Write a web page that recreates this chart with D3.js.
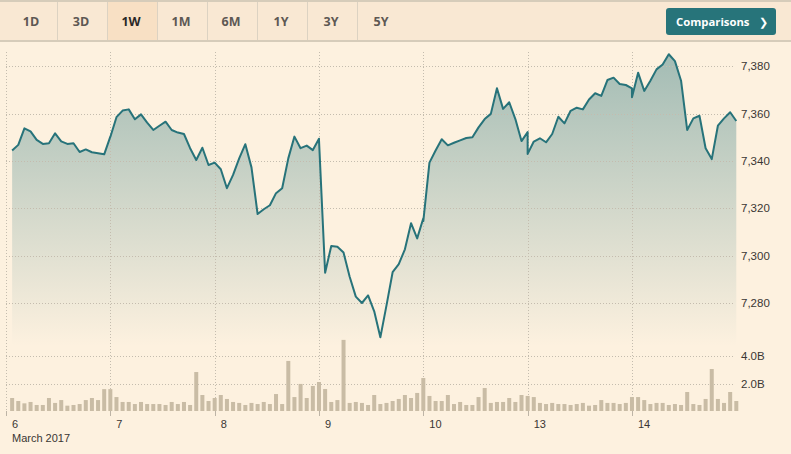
<!DOCTYPE html>
<html>
<head>
<meta charset="utf-8">
<script src="https://cdn.jsdelivr.net/npm/d3@7"></script>
<style>
  html, body { margin: 0; padding: 0; background: #fdf1df; }
  svg { display: block; }
</style>
</head>
<body>
<svg id="chart" width="791" height="454"></svg>
<script>
// ---------- DATA ----------
const dayLabels = ["6", "7", "8", "9", "10", "13", "14"];
const monthLabel = "March 2017";
const rangeButtons = ["1D", "3D", "1W", "1M", "6M", "1Y", "3Y", "5Y"];
const activeButton = "1W";
const slotsPerDay = 17; // half-hour slots, 08:00 .. 16:30

// Prices per day; first value of day 6 is the 08:30 slot, other days start at 08:00
const price6  = [7344.4, 7346.8, 7353.8, 7352.5, 7348.9, 7347.2, 7347.5, 7351.7, 7348.3, 7347.2, 7347.5, 7343.8, 7344.9, 7343.7, 7343.3, 7342.8, 7350.3];
const price7  = [7350.1, 7358.5, 7361.3, 7361.8, 7357.6, 7359.7, 7356.2, 7353.1, 7354.9, 7356.6, 7353.1, 7352.0, 7351.4, 7345.4, 7340.4, 7345.6, 7338.3, 7339.3];
const price8  = [7339.3, 7336.5, 7328.5, 7334.1, 7341.1, 7347.1, 7337.3, 7317.6, 7319.6, 7321.3, 7326.4, 7328.5, 7341.1, 7350.3, 7345.4, 7346.5, 7344.6, 7349.4];
const price9  = [7349.0, 7292.8, 7304.1, 7303.8, 7301.3, 7291.1, 7282.7, 7280.0, 7283.2, 7276.5, 7265.5, 7279.0, 7293.0, 7296.4, 7302.7, 7313.7, 7307.3, 7315.8];
const price10 = [7314.6, 7339.3, 7344.4, 7349.2, 7346.6, 7347.7, 7348.7, 7349.7, 7350.0, 7354.2, 7357.7, 7359.9, 7370.7, 7362.0, 7364.8, 7357.7, 7348.4, 7352.2];
const price13 = [7343.0, 7348.2, 7349.6, 7347.9, 7351.4, 7358.7, 7355.9, 7361.2, 7362.5, 7361.8, 7366.0, 7368.6, 7367.5, 7374.2, 7375.2, 7372.5, 7372.1, 7370.7];
const price14 = [7366.9, 7377.3, 7369.6, 7373.9, 7378.7, 7380.8, 7385.1, 7382.2, 7373.9, 7353.1, 7358.0, 7359.1, 7345.4, 7340.8, 7354.9, 7358.0, 7360.6, 7356.9];

// Volume (billions) per half-hour slot 08:30 .. 16:30
const vol6  = [0.95, 0.73, 0.56, 0.66, 0.44, 0.44, 0.95, 0.59, 0.80, 0.39, 0.44, 0.51, 0.80, 0.95, 0.80, 1.60, 1.60];
const vol7  = [1.02, 0.66, 0.66, 0.51, 0.66, 0.51, 0.51, 0.51, 0.44, 0.66, 0.51, 0.66, 0.44, 2.85, 1.17, 0.73, 0.95];
const vol8  = [1.17, 0.88, 0.66, 0.59, 0.44, 0.59, 0.51, 0.66, 0.51, 1.24, 0.51, 3.66, 1.02, 1.98, 0.95, 1.83, 2.12];
const vol9  = [1.61, 0.66, 0.80, 5.20, 0.59, 0.66, 0.59, 0.44, 1.17, 0.51, 0.59, 0.73, 0.88, 1.17, 0.95, 1.32, 2.41];
const vol10 = [1.10, 0.73, 0.73, 1.17, 0.51, 0.66, 0.44, 0.44, 1.02, 1.68, 0.59, 0.66, 0.66, 0.95, 0.66, 1.17, 1.10];
const vol13 = [1.02, 0.59, 0.51, 0.59, 0.51, 0.51, 0.44, 0.51, 0.59, 0.39, 0.44, 0.80, 0.59, 0.59, 0.51, 0.59, 1.02];
const vol14 = [1.02, 0.80, 0.51, 0.59, 0.59, 0.44, 0.51, 0.44, 1.39, 0.51, 0.44, 0.88, 3.07, 0.88, 0.59, 1.39, 0.73];

const priceTicks = [7280, 7300, 7320, 7340, 7360, 7380];
const volumeTicks = [2, 4];

// ---------- BUILD SERIES ----------
const priceDays = [price6, price7, price8, price9, price10, price13, price14];
const volDays = [vol6, vol7, vol8, vol9, vol10, vol13, vol14];
const priceSeries = [];
priceDays.forEach((arr, d) => {
  const startSlot = slotsPerDay + 1 - arr.length;
  arr.forEach((v, j) => priceSeries.push({ t: d * slotsPerDay + startSlot + j, v }));
});
const volSeries = [];
volDays.forEach((arr, d) => arr.forEach((v, j) => volSeries.push({ t: d * slotsPerDay + 1 + j, v })));

// ---------- LAYOUT ----------
const W = 791, H = 454;
const svg = d3.select("#chart");
const bg = "#fdf1df";
const teal = "#27737a";
const gridColor = "#c4bcae";
const textColor = "#3a3633";

svg.append("rect").attr("width", W).attr("height", H).attr("fill", bg);

// Toolbar
const bar = svg.append("g");
bar.append("rect").attr("x", 0).attr("y", 0).attr("width", W).attr("height", 41).attr("fill", "#f9e8d3");
bar.append("rect").attr("x", 0).attr("y", 0).attr("width", W).attr("height", 2).attr("fill", "#d6ccba");
bar.append("rect").attr("x", 0).attr("y", 40).attr("width", W).attr("height", 2).attr("fill", "#d6ccba");
const btnW = 50, btnX0 = 7;
rangeButtons.forEach((b, i) => {
  const x0 = btnX0 + i * btnW;
  if (b === activeButton) {
    bar.append("rect").attr("x", x0).attr("y", 2).attr("width", btnW).attr("height", 38).attr("fill", "#f8e0c4");
  }
  if (i > 0) {
    bar.append("rect").attr("x", x0).attr("y", 2).attr("width", 1).attr("height", 38).attr("fill", "#dcd2c2");
  }
  bar.append("text")
    .attr("x", x0 + btnW / 2 - 1).attr("y", 26)
    .attr("text-anchor", "middle")
    .attr("font-family", "'Open Sans', 'Liberation Sans', sans-serif")
    .attr("font-weight", 700)
    .attr("font-size", 12.5)
    .attr("fill", b === activeButton ? "#2b2826" : "#5e5853")
    .text(b);
});
bar.append("rect").attr("x", 666).attr("y", 8).attr("width", 110).attr("height", 27).attr("rx", 3).attr("fill", "#27747a");
bar.append("text").attr("x", 676).attr("y", 25.5)
  .attr("font-family", "'Open Sans', 'Liberation Sans', sans-serif")
  .attr("font-weight", 700).attr("font-size", 11.3).attr("fill", "#ffffff")
  .text("Comparisons");
bar.append("text").attr("x", 759).attr("y", 26)
  .attr("font-family", "'DejaVu Sans', sans-serif")
  .attr("font-weight", 700).attr("font-size", 11).attr("fill", "#ffffff")
  .text("❯");

// Scales
const plotLeft = 6, plotRight = 736.3;
const x = d3.scaleLinear().domain([0, dayLabels.length * slotsPerDay]).range([plotLeft, plotRight]);
const y = d3.scaleLinear().domain([7280, 7380]).range([303, 66.3]);
const yVol = d3.scaleLinear().domain([0, 4]).range([411, 356.3]);
const areaBottom = 346;

// Gradient
const defs = svg.append("defs");
const grad = defs.append("linearGradient").attr("id", "areaGrad")
  .attr("x1", 0).attr("x2", 0).attr("y1", 55).attr("y2", areaBottom)
  .attr("gradientUnits", "userSpaceOnUse");
grad.append("stop").attr("offset", 0).attr("stop-color", teal).attr("stop-opacity", 0.42);
grad.append("stop").attr("offset", 1).attr("stop-color", teal).attr("stop-opacity", 0.0);

// Area
const area = d3.area().x(d => x(d.t)).y0(areaBottom).y1(d => y(d.v));
svg.append("path").datum(priceSeries).attr("d", area).attr("fill", "url(#areaGrad)");

// Horizontal gridlines (price)
const gridG = svg.append("g");
gridG.selectAll("line.hp").data(priceTicks).join("line")
  .attr("x1", plotLeft).attr("x2", 735).attr("y1", d => Math.round(y(d)) + 0.5).attr("y2", d => Math.round(y(d)) + 0.5)
  .attr("stroke", gridColor).attr("stroke-width", 1).attr("stroke-dasharray", "1,2");
gridG.selectAll("line.hv").data(volumeTicks).join("line")
  .attr("x1", plotLeft).attr("x2", 735).attr("y1", d => Math.round(yVol(d)) + 0.5).attr("y2", d => Math.round(yVol(d)) + 0.5)
  .attr("stroke", gridColor).attr("stroke-width", 1).attr("stroke-dasharray", "1,2");

// Vertical gridlines at day boundaries
const dayStarts = dayLabels.map((d, i) => i * slotsPerDay);
gridG.selectAll("line.v").data(dayStarts).join("line")
  .attr("x1", d => Math.round(x(d)) + 0.5).attr("x2", d => Math.round(x(d)) + 0.5)
  .attr("y1", 52).attr("y2", 411)
  .attr("stroke", gridColor).attr("stroke-width", 1).attr("stroke-dasharray", "1,2");
gridG.selectAll("line.tick").data(dayStarts).join("line")
  .attr("x1", d => Math.round(x(d)) + 0.5).attr("x2", d => Math.round(x(d)) + 0.5)
  .attr("y1", 411).attr("y2", 416)
  .attr("stroke", "#bdb4a6").attr("stroke-width", 1);

// Volume bars
svg.append("g").selectAll("rect").data(volSeries).join("rect")
  .attr("x", d => x(d.t) - 2).attr("width", 4)
  .attr("y", d => yVol(d.v)).attr("height", d => yVol(0) - yVol(d.v))
  .attr("fill", "#c9bca5");

// Price line
const line = d3.line().x(d => x(d.t)).y(d => y(d.v));
svg.append("path").datum(priceSeries).attr("d", line)
  .attr("fill", "none").attr("stroke", teal).attr("stroke-width", 2).attr("stroke-linejoin", "round");

// Right axis labels
const fmt = d3.format(",");
svg.append("g").selectAll("text").data(priceTicks).join("text")
  .attr("x", 741).attr("y", d => y(d) + 4)
  .attr("font-family", "'Liberation Sans', Arial, sans-serif").attr("font-size", 11.5)
  .attr("fill", textColor).text(d => fmt(d));
svg.append("g").selectAll("text").data(volumeTicks).join("text")
  .attr("x", 741).attr("y", d => yVol(d) + 4)
  .attr("font-family", "'Liberation Sans', Arial, sans-serif").attr("font-size", 11.5)
  .attr("fill", textColor).text(d => d.toFixed(1) + "B");

// Bottom axis labels
svg.append("g").selectAll("text").data(dayLabels).join("text")
  .attr("x", (d, i) => x(dayStarts[i]) + 6).attr("y", 427.5)
  .attr("font-family", "'Liberation Sans', Arial, sans-serif").attr("font-size", 11)
  .attr("fill", textColor).text(d => d);
svg.append("text").attr("x", 12).attr("y", 442)
  .attr("font-family", "'Liberation Sans', Arial, sans-serif").attr("font-size", 11)
  .attr("fill", textColor).text(monthLabel);
</script>
</body>
</html>
